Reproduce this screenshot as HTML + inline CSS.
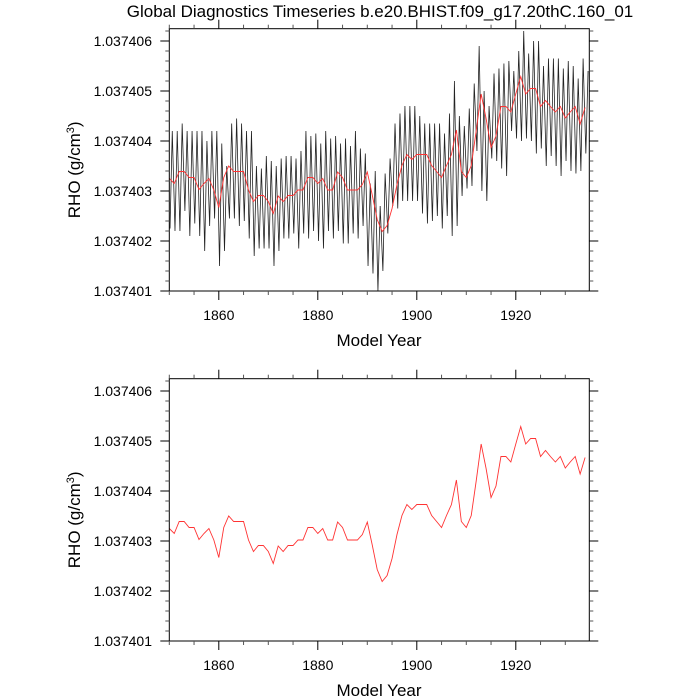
<!DOCTYPE html>
<html><head><meta charset="utf-8"><style>
body{margin:0;background:#fff}
svg{display:block;font-family:"Liberation Sans",sans-serif}
</style></head><body>
<svg id="c" width="700" height="700" viewBox="0 0 700 700">
<text x="380" y="17" text-anchor="middle" font-size="17">Global Diagnostics Timeseries b.e20.BHIST.f09_g17.20thC.160_01</text>
</svg>
<script>
const years = [];
for (let i = 0; i < 85; i++) years.push(1850 + i);
// annual mean (units of 1e-6 above 1.037400)
const annualMean = [3.25,3.15,3.39,3.39,3.27,3.27,3.03,3.15,3.25,3.02,2.67,3.27,3.50,3.39,3.39,3.39,3.02,2.79,2.91,2.91,2.79,2.55,2.90,2.79,2.91,2.91,3.02,3.02,3.27,3.27,3.15,3.25,3.02,3.02,3.38,3.27,3.02,3.02,3.02,3.13,3.38,2.92,2.43,2.19,2.31,2.65,3.13,3.51,3.73,3.63,3.73,3.73,3.73,3.51,3.39,3.27,3.51,3.73,4.22,3.39,3.27,3.51,4.2,4.94,4.45,3.87,4.1,4.69,4.69,4.58,4.94,5.29,4.94,5.05,5.05,4.69,4.81,4.69,4.58,4.69,4.46,4.58,4.69,4.34,4.67];
const monthlyPeak = [4.2,4.2,4.35,4.2,4.2,4.2,4.2,4.0,4.2,4.2,3.95,3.5,4.35,4.45,4.35,4.2,4.2,3.5,3.45,3.7,3.6,3.5,3.65,3.7,3.7,3.65,3.8,4.2,4.1,4.15,3.95,4.2,4.05,4.1,3.95,4.05,3.9,4.2,3.85,3.75,3.15,3.4,2.7,3.35,3.65,4.35,4.55,4.7,4.7,4.7,4.5,4.35,4.35,4.35,4.35,4.15,4.55,5.2,4.5,4.3,4.65,5.15,5.9,5.0,4.7,5.35,5.45,5.55,5.6,5.4,5.8,6.2,5.75,6.0,6.0,5.5,5.65,5.65,5.65,5.45,5.6,5.5,5.25,5.65,5.4];
const monthlyTrough = [2.25,2.2,2.2,2.6,2.1,2.35,2.1,1.8,2.3,2.45,1.5,1.8,2.45,2.45,2.3,2.4,2.05,1.7,1.85,1.85,1.85,1.5,1.8,2.05,2.05,2.15,1.85,2.15,2.05,2.2,2.0,1.85,2.2,2.05,2.2,1.95,1.95,2.15,2.05,2.3,1.5,1.35,1.0,1.4,2.15,2.7,2.65,2.8,2.8,2.8,2.8,2.55,2.35,2.4,2.5,2.25,2.5,2.1,2.3,2.9,3.05,3.1,3.8,3.0,2.8,3.65,3.6,3.45,3.3,4.2,4.05,4.0,4.05,4.0,3.75,3.85,3.5,3.7,3.5,3.3,3.6,3.4,3.35,3.4,3.75];
const yTickLabels = ["1.037401","1.037402","1.037403","1.037404","1.037405","1.037406"];
const yTickValues = [1,2,3,4,5,6];
const xTickValues = [1860,1880,1900,1920];

const svg = document.getElementById('c');
const NS = 'http://www.w3.org/2000/svg';
const L = 169.3, R = 589.3, X0 = 1850, X1 = 1934.85;
function xs(v){ return L + (v - X0) / (X1 - X0) * (R - L); }
function mk(tag, attrs, parent){ const e = document.createElementNS(NS, tag); for (const k in attrs) e.setAttribute(k, attrs[k]); (parent||svg).appendChild(e); return e; }

function panel(top, bottom, idx, withMonthly){
  const ys = v => bottom - (v - 1) / 5 * 250;
  const g = mk('g', {});
  
  
  const cid = 'clip' + idx;
  const cp = mk('clipPath', {id: cid}, g);
  mk('rect', {x: L, y: top, width: R - L, height: bottom - top}, cp);
  if (withMonthly){
    let d = '';
    for (let i = 0; i < years.length; i++){
      d += (i ? 'L' : 'M') + xs(years[i] + 0.15).toFixed(2) + ',' + ys(monthlyTrough[i]).toFixed(2);
      d += 'L' + xs(years[i] + 0.6).toFixed(2) + ',' + ys(monthlyPeak[i]).toFixed(2);
    }
    const p = mk('path', {d: d, fill: 'none', stroke: '#222', 'stroke-width': 0.8, 'clip-path': 'url(#' + cid + ')'}, g);
    
    
  }
  let d2 = '';
  for (let i = 0; i < years.length; i++) d2 += (i ? 'L' : 'M') + xs(years[i]).toFixed(2) + ',' + ys(annualMean[i]).toFixed(2);
  const pr = mk('path', {d: d2, fill: 'none', stroke: '#f33', 'stroke-width': 0.9, 'clip-path': 'url(#' + cid + ')'}, g);
  
  
  const box = mk('rect', {x: L, y: top, width: R - L, height: bottom - top, fill: 'none', stroke: '#000', 'stroke-width': 1}, g);
  
  
  for (let m = 0; m <= 26; m++){
    const v = 1 + m * 0.2;
    const y = ys(v);
    if (y < top - 0.5) continue;
    const maj = (m % 5 === 0);
    const len = maj ? 9 : 4;
    mk('line', {x1: L - len, x2: L, y1: y, y2: y, stroke: maj ? '#000' : '#555', 'stroke-width': 1}, g);
    mk('line', {x1: R, x2: R + len, y1: y, y2: y, stroke: maj ? '#000' : '#555', 'stroke-width': 1}, g);
  }
  yTickValues.forEach((v, i) => {
    const t = mk('text', {x: 152, y: ys(v) + 5, 'text-anchor': 'end', 'font-size': 14}, g);
    t.textContent = yTickLabels[i];
    
    
  });
  for (let yr = 1850; yr <= 1934; yr += 5){
    const x = xs(yr);
    const maj = xTickValues.indexOf(yr) >= 0;
    const len = maj ? 9 : 4;
    mk('line', {x1: x, x2: x, y1: bottom, y2: bottom + len, stroke: maj ? '#000' : '#555', 'stroke-width': 1}, g);
    mk('line', {x1: x, x2: x, y1: top - len, y2: top, stroke: maj ? '#000' : '#555', 'stroke-width': 1}, g);
  }
  xTickValues.forEach(v => {
    const t = mk('text', {x: xs(v), y: bottom + 29, 'text-anchor': 'middle', 'font-size': 14}, g);
    t.textContent = String(v);
    
    
  });
  const xt = mk('text', {x: 379, y: bottom + 55, 'text-anchor': 'middle', 'font-size': 17}, g);
  xt.textContent = 'Model Year';
  
  
  const cy = (top + bottom) / 2 + 10;
  const yt = mk('text', {x: 0, y: 0, 'text-anchor': 'middle', 'font-size': 17, transform: 'translate(80,' + cy + ') rotate(-90)'}, g);
  yt.innerHTML = 'RHO (g/cm<tspan dy="-6" font-size="11">3</tspan><tspan dy="6">)</tspan>';
  
  
}
panel(28.7, 291, 1, true);
panel(378.7, 641, 2, false);
</script>
</body></html>
